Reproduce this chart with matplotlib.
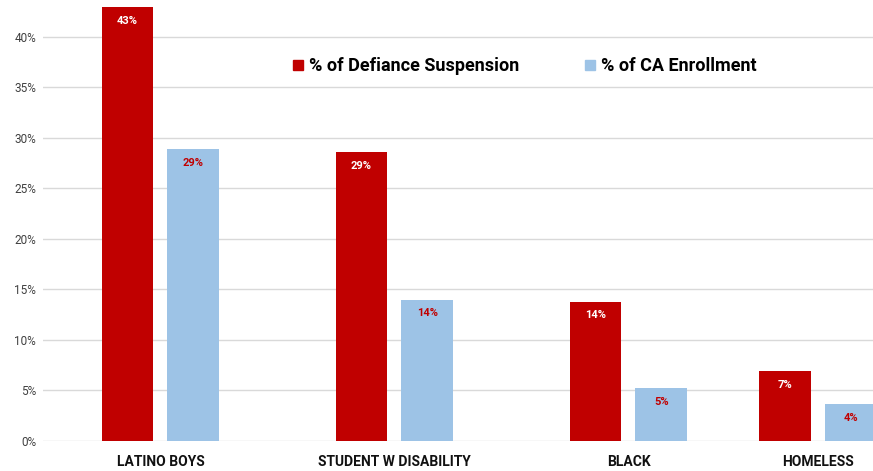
import matplotlib
matplotlib.use("Agg")
import matplotlib.pyplot as plt
from matplotlib.lines import Line2D
import numpy as np

categories = ["LATINO BOYS", "STUDENT W DISABILITY", "BLACK", "HOMELESS"]
suspension = [43.0, 28.6, 13.8, 6.9]
enrollment = [28.9, 14.0, 5.2, 3.7]
susp_labels = ["43%", "29%", "14%", "7%"]
enr_labels = ["29%", "14%", "5%", "4%"]
series_names = ["% of Defiance Suspension", "% of CA Enrollment"]
yticks = [0, 5, 10, 15, 20, 25, 30, 35, 40]

# layout (group centres, not data)
x = np.array([0.0, 1.0, 2.0, 2.808])
width = 0.222
off = 0.141
RED = "#C00000"
BLUE = "#9DC3E6"
FONT = ["Roboto", "DejaVu Sans"]

fig = plt.figure(figsize=(8.73, 4.71), dpi=100)
ax = fig.add_axes([43 / 873, 30 / 471, 1 - 43 / 873, 1 - 30 / 471])

b1 = ax.bar(x - off, suspension, width, color=RED, zorder=3)
b2 = ax.bar(x + off, enrollment, width, color=BLUE, zorder=3)

for rect, lab in zip(b1, susp_labels):
    ax.annotate(lab, (rect.get_x() + rect.get_width() / 2, rect.get_height()),
                xytext=(0, -10), textcoords="offset points", ha="center", va="center",
                color="white", fontsize=8, fontweight="bold", family=FONT, zorder=4)
for rect, lab in zip(b2, enr_labels):
    ax.annotate(lab, (rect.get_x() + rect.get_width() / 2, rect.get_height()),
                xytext=(0, -10), textcoords="offset points", ha="center", va="center",
                color=RED, fontsize=8, fontweight="bold", family=FONT, zorder=4)

ax.set_xlim(-0.502, 3.045)
ax.set_ylim(0, 43.66)
ax.set_yticks(yticks)
ax.set_yticklabels([f"{t}%" for t in yticks], family=FONT, fontsize=8.5, color="#404040")
ax.set_xticks(x)
ax.set_xticklabels(categories, family=FONT, fontsize=10, fontweight="bold", color="#111111")
ax.tick_params(axis="both", length=0)
ax.tick_params(axis="y", pad=5)
ax.tick_params(axis="x", pad=10)
ax.grid(axis="y", color="#D9D9D9", linewidth=1, zorder=0)
for s in ax.spines.values():
    s.set_visible(False)

handles = [Line2D([], [], marker="s", linestyle="none", markersize=7.5, color=RED),
           Line2D([], [], marker="s", linestyle="none", markersize=7.5, color=BLUE)]
leg = ax.legend(handles, series_names, ncol=2, frameon=False,
                loc="center left", bbox_to_anchor=(293 / 873, 1 - 66 / 471),
                bbox_transform=fig.transFigure,
                prop={"family": FONT, "size": 13, "weight": "bold"},
                handlelength=0.6, handletextpad=0.3, columnspacing=3.6,
                borderpad=0, borderaxespad=0)

fig.savefig("out.png", dpi=100, facecolor="white")
